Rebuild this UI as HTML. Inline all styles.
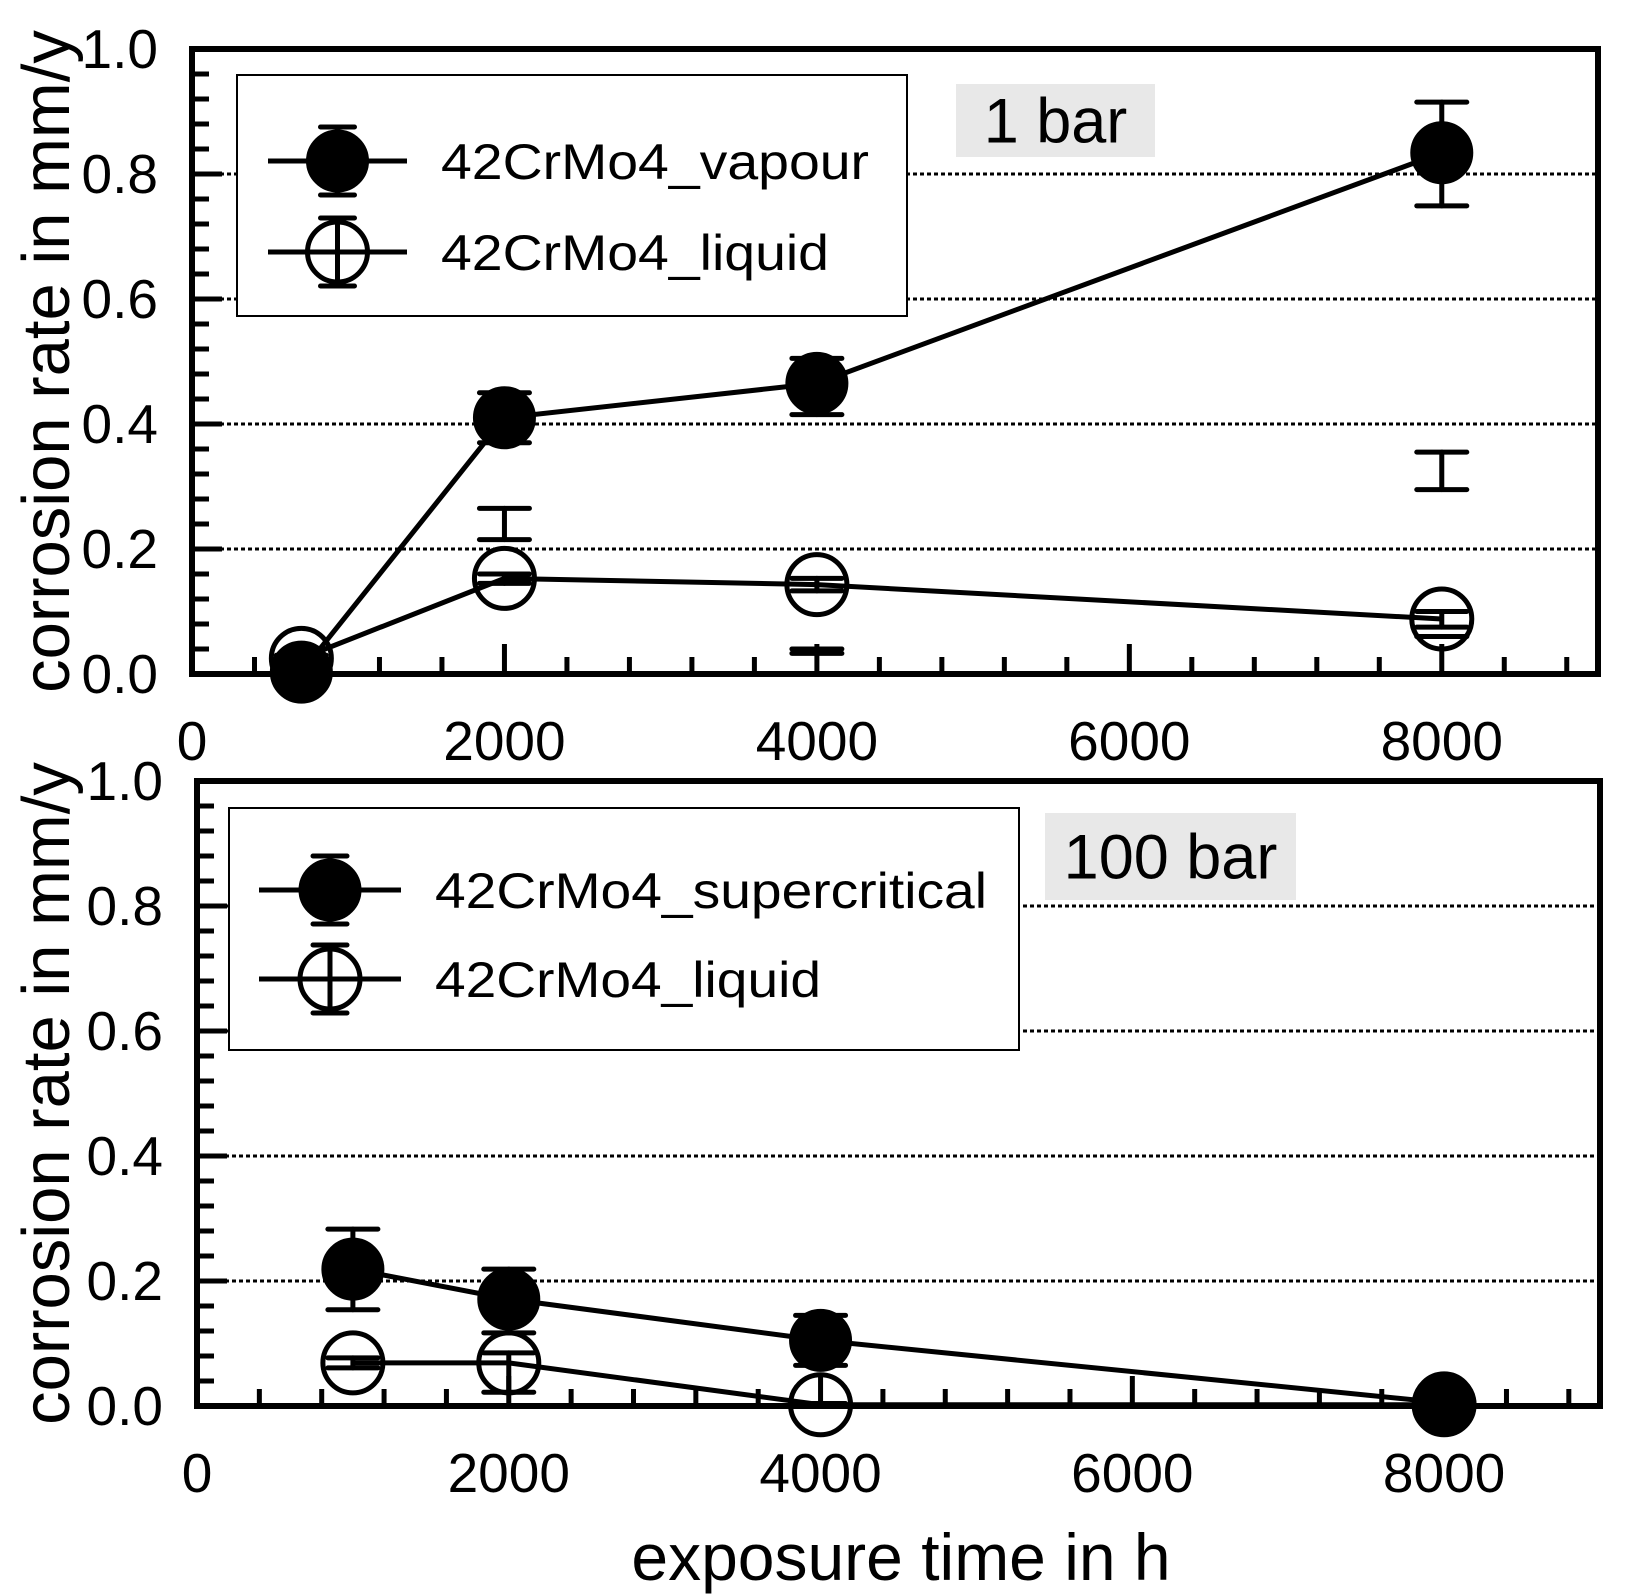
<!DOCTYPE html>
<html><head><meta charset="utf-8"><style>
html,body{margin:0;padding:0;background:#fff;}
svg{display:block;font-family:"Liberation Sans",Arial,sans-serif;}
</style></head><body>
<svg id="chart" width="1640" height="1595" viewBox="0 0 1640 1595" xmlns="http://www.w3.org/2000/svg"></svg>
<script>
// ---- data: top panel (1 bar) ----
const topVapourX = [700, 2000, 4000, 8000];
const topVapourY = [0.003, 0.41, 0.465, 0.834];
const topVapourLo = [0.0, 0.37, 0.415, 0.749];
const topVapourHi = [0.01, 0.45, 0.505, 0.915];
const topLiquidX = [700, 2000, 4000, 8000];
const topLiquidY = [0.025, 0.153, 0.143, 0.088];
const topLiquidLo = [0.02, 0.145, 0.133, 0.075];
const topLiquidHi = [0.03, 0.16, 0.153, 0.1];
const topExtraX = [2000, 4000, 8000, 2000, 8000];
const topExtraLo = [0.215, 0.033, 0.295, 0.0, 0.06];
const topExtraHi = [0.265, 0.04, 0.355, 0.0, 0.06];
// ---- data: bottom panel (100 bar) ----
const botSuperX = [1000, 2000, 4000, 8000];
const botSuperY = [0.219, 0.171, 0.105, 0.005];
const botSuperLo = [0.154, 0.117, 0.065, 0.0];
const botSuperHi = [0.283, 0.219, 0.145, 0.01];
const botLiquidX = [1000, 2000, 4000, 8000];
const botLiquidY = [0.069, 0.069, 0.002, 0.002];
const botLiquidLo = [0.061, 0.022, 0.0, 0.0];
const botLiquidHi = [0.077, 0.085, 0.004, 0.004];
// ---- ticks ----
const yTickLabels = ["0.0","0.2","0.4","0.6","0.8","1.0"];
const yTickValues = [0, 0.2, 0.4, 0.6, 0.8, 1.0];
const xTickLabels = ["0","2000","4000","6000","8000"];
const xTickValues = [0, 2000, 4000, 6000, 8000];

const NS = "http://www.w3.org/2000/svg";
const svg = document.getElementById('chart');
function mk(tag, attrs, parent, text){
  const e = document.createElementNS(NS, tag);
  for (const k in attrs) e.setAttribute(k, attrs[k]);
  if (text !== undefined) e.textContent = text;
  (parent || svg).appendChild(e);
  return e;
}

function panel(p){
  const g = mk('g', {});
  
  
  const sx = v => p.x0 + (v / 9000) * (p.x1 - p.x0);
  const sy = v => p.y0 - v * (p.y0 - p.y1);
  [0.2,0.4,0.6,0.8].forEach(v => {
    const l = mk('line', {x1:p.x0, x2:p.x1, y1:sy(v), y2:sy(v), stroke:'#000', 'stroke-width':3, 'stroke-dasharray':'4 3'}, g);
    
    
  });
  for (let i = 0; i <= 25; i++){
    const v = i * 0.04;
    const len = (i % 5 === 0) ? 30 : 17;
    const t = mk('line', {x1:p.x0, x2:p.x0+len, y1:sy(v), y2:sy(v), stroke:'#000', 'stroke-width':5}, g);
    
    
  }
  for (let i = 0; i <= 22; i++){
    const v = i * 400;
    const len = (v % 2000 === 0) ? 30 : 17;
    const t = mk('line', {x1:sx(v), x2:sx(v), y1:p.y0, y2:p.y0-len, stroke:'#000', 'stroke-width':5}, g);
    
    
  }
  yTickLabels.forEach((s, i) => {
    const t = mk('text', {x:p.x0-34, y:sy(yTickValues[i])+19, 'font-size':55, 'text-anchor':'end'}, g, s);
    
    
  });
  xTickLabels.forEach((s, i) => {
    const t = mk('text', {x:sx(xTickValues[i]), y:p.y0+86, 'font-size':55, 'text-anchor':'middle'}, g, s);
    
    
  });
  const yt = mk('text', {x:0, y:0, 'font-size':67, 'text-anchor':'middle', transform:`translate(69,${(p.y0+p.y1)/2}) rotate(-90)`}, g, 'corrosion rate in mm/y');
  
  
  const pb = mk('rect', {x:p.lab.x, y:p.lab.y, width:p.lab.w, height:p.lab.h, fill:'#e8e8e8'}, g);
  
  
  const pt = mk('text', {x:p.lab.x+p.lab.w/2, y:p.lab.y+p.lab.h/2+22, 'font-size':63, 'text-anchor':'middle'}, g, p.lab.text);
  
  

  function errbar(x, lo, hi, parent){
    const eg = mk('g', {stroke:'#000', 'stroke-width':5, 'stroke-linecap':'round'}, parent);
    
    
    mk('line', {x1:sx(x), x2:sx(x), y1:sy(lo), y2:sy(hi)}, eg);
    mk('line', {x1:sx(x)-25, x2:sx(x)+25, y1:sy(lo), y2:sy(lo)}, eg);
    mk('line', {x1:sx(x)-25, x2:sx(x)+25, y1:sy(hi), y2:sy(hi)}, eg);
  }
  p.series.forEach(s => {
    const sg = mk('g', {}, g);
    
    
    const pts = s.x.map((x, i) => sx(x) + ',' + sy(s.y[i])).join(' ');
    const pl = mk('polyline', {points:pts, fill:'none', stroke:'#000', 'stroke-width':5}, sg);
    
    
    s.x.forEach((x, i) => {
      errbar(x, s.lo[i], s.hi[i], sg);
      const c = mk('circle', {cx:sx(x), cy:sy(s.y[i]), r: s.filled ? 31 : 30, fill: s.filled ? '#000' : 'none', stroke:'#000', 'stroke-width': s.filled ? 1 : 5}, sg);
      
      
    });
  });
  if (p.extra){
    p.extra.x.forEach((x, i) => errbar(x, p.extra.lo[i], p.extra.hi[i], g));
  }
  const fr = mk('rect', {x:p.x0, y:p.y1, width:p.x1-p.x0, height:p.y0-p.y1, fill:'none', stroke:'#000', 'stroke-width':6}, g);
  
  

  const L = p.leg;
  const lg = mk('g', {}, g);
  
  
  mk('rect', {x:L.x, y:L.y, width:L.w, height:L.h, fill:'#fff', stroke:'#000', 'stroke-width':2}, lg);
  L.entries.forEach(en => {
    const eg = mk('g', {}, lg);
    
    
    mk('line', {x1:L.lx1, x2:L.lx2, y1:en.y, y2:en.y, stroke:'#000', 'stroke-width':5}, eg);
    const cx = (L.lx1 + L.lx2)/2;
    mk('line', {x1:cx, x2:cx, y1:en.y-34, y2:en.y+34, stroke:'#000', 'stroke-width':5}, eg);
    mk('line', {x1:cx-17, x2:cx+17, y1:en.y-34, y2:en.y-34, stroke:'#000', 'stroke-width':5, 'stroke-linecap':'round'}, eg);
    mk('line', {x1:cx-17, x2:cx+17, y1:en.y+34, y2:en.y+34, stroke:'#000', 'stroke-width':5, 'stroke-linecap':'round'}, eg);
    mk('circle', {cx:cx, cy:en.y, r: en.filled ? 31 : 30, fill: en.filled ? '#000' : '#fff', stroke:'#000', 'stroke-width': en.filled ? 1 : 5}, eg);
    if (!en.filled){
      mk('line', {x1:cx, x2:cx, y1:en.y-30, y2:en.y+30, stroke:'#000', 'stroke-width':5}, eg);
      mk('line', {x1:cx-30, x2:cx+30, y1:en.y, y2:en.y, stroke:'#000', 'stroke-width':5}, eg);
    }
    mk('text', {x:L.tx, y:en.y+18, 'font-size':50, textLength:en.tl, lengthAdjust:'spacingAndGlyphs'}, eg, en.text);
  });
}

panel({
  name:'panel-1-bar', x0:192, x1:1598, y0:674, y1:49,
  lab:{x:956, y:84, w:199, h:73, text:'1 bar'},
  series:[
    {name:'series-42CrMo4-vapour', filled:true, x:topVapourX, y:topVapourY, lo:topVapourLo, hi:topVapourHi},
    {name:'series-42CrMo4-liquid-1bar', filled:false, x:topLiquidX, y:topLiquidY, lo:topLiquidLo, hi:topLiquidHi}
  ],
  extra:{x:topExtraX, lo:topExtraLo, hi:topExtraHi},
  leg:{x:237, y:75, w:670, h:241, lx1:268, lx2:407, tx:441,
    entries:[{y:161, filled:true, text:'42CrMo4_vapour', tl:428},{y:252, filled:false, text:'42CrMo4_liquid', tl:388}]}
});
panel({
  name:'panel-100-bar', x0:197, x1:1600, y0:1406, y1:781,
  lab:{x:1045, y:813, w:251, h:87, text:'100 bar'},
  series:[
    {name:'series-42CrMo4-supercritical', filled:true, x:botSuperX, y:botSuperY, lo:botSuperLo, hi:botSuperHi},
    {name:'series-42CrMo4-liquid-100bar', filled:false, x:botLiquidX, y:botLiquidY, lo:botLiquidLo, hi:botLiquidHi}
  ],
  leg:{x:229, y:808, w:790, h:242, lx1:259, lx2:401, tx:435,
    entries:[{y:890, filled:true, text:'42CrMo4_supercritical', tl:552},{y:979, filled:false, text:'42CrMo4_liquid', tl:386}]}
});
const xt = mk('text', {x:901, y:1580, 'font-size':66, 'text-anchor':'middle'}, svg, 'exposure time in h');


</script>
</body></html>
